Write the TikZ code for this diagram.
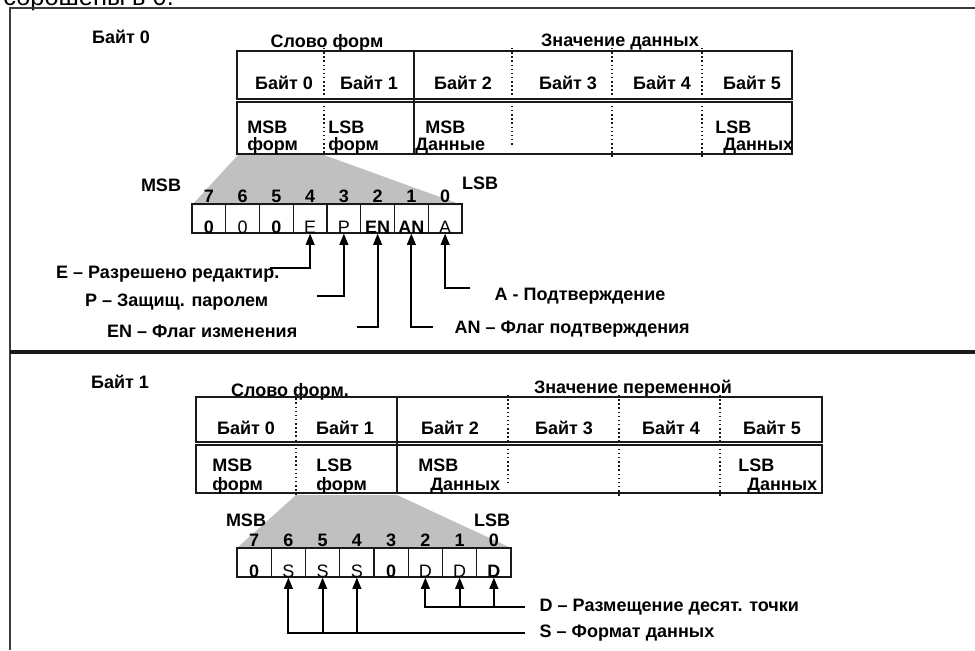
\documentclass[tikz,border=0pt]{standalone}
\usepackage{fontspec}
\setmainfont{Liberation Sans}
\usetikzlibrary{arrows.meta,calc}
\definecolor{wedge}{HTML}{C0C0C0}
\definecolor{ink}{HTML}{1A1A1A}

\begin{document}
\begin{tikzpicture}[
  x=.75pt, y=-.75pt,
  font=\fontsize{13.5}{15}\selectfont\bfseries,
  frame/.style={draw=ink!85, line width=1.1pt},
  cellrow/.style={draw=ink, line width=.9pt},
  split/.style={draw=ink, line width=1.1pt, dotted},
  bitcell/.style={draw=ink, line width=.8pt, minimum height=21.75pt,
    inner sep=0pt},
  bitval/.style={anchor=base, inner sep=0pt,
    font=\fontsize{13.5}{15}\selectfont\mdseries},
  bitnum/.style={anchor=base, inner sep=0pt},
  note/.style={anchor=base west, inner sep=0pt},
  lead/.style={draw=black, line width=1.5pt},
  pointer/.style={lead, -{Triangle[length=8.5pt,width=6.5pt]}}
]
\useasboundingbox (0,0) rectangle (975,650);
% text cut off by the top edge of the page
\node[anchor=base west, inner sep=0pt,
  font=\fontsize{19}{20}\selectfont\mdseries] (cut) at (3,5) {сброшены в 0.};
\draw[frame] (10,650) -- (10,8) -- (975,8);
\draw[ink, line width=2.6pt] (10,352) -- (975,352);

%% Byte 0 panel
\node (head0) at (121,37) {Байт 0};
\node (word0) at (327,43) {Слово форм};
\node (value0) at (620,42) {Значение данных};
\draw[cellrow] (237,51) rectangle (792,99);
\draw[cellrow] (237,102) rectangle (792,154);
\draw[cellrow] (414,51) -- (414,154);
\foreach \x/\yb in {324/157, 512/145, 612/157, 702/157}
  \draw[split] (\x,48) -- (\x,\yb);
\foreach \x/\n in {284/0, 369/1, 463/2, 568/3, 662/4, 752/5}
  \node (ta\n) at (\x,83) {Байт \n};
\foreach \xa/\xb/\nm/\up/\dn in {247/247/tm0/MSB/форм, 328/328/tm1/LSB/форм,
  425/415/tm2/MSB/Данные, 715/723/tm5/LSB/Данных} {
  \node[note] (\nm-up) at (\xa,133) {\up};
  \node[note] (\nm-dn) at (\xb,150) {\dn};
}

\fill[wedge] (238,155) -- (324,155) -- (462,205) -- (192,205) -- cycle;
\foreach \v [count=\i from 0] in {{\bfseries 0},0,{\bfseries 0},E,P,
  {\bfseries EN},{\bfseries AN},A} {
  \pgfmathtruncatemacro\k{7-\i}
  \node[bitcell, minimum width=25.31pt] (t\k)
    at ({192+33.75*(\i+.5)},218.5) {};
  \node[bitval] (tv\k) at (t\k.south) {\v};
  \node[bitnum] (tn\k) at ([yshift=1pt]t\k.north) {\k};
}
\node (msb0) at (161,185) {MSB};
\node (lsb0) at (480,183) {LSB};

\node[anchor=east] (labE) at (284,274) {E – Разрешено редактир.};
\node[anchor=east] (labP) at (273,302) {P – Защищ. паролем};
\node[anchor=east] (labEN) at (302,331) {EN – Флаг изменения};
\node[anchor=west] (labAN) at (450,329) {AN – Флаг подтверждения};
\node[anchor=west] (labA) at (490,296) {A - Подтверждение};
\coordinate (endE) at (270,268);
\coordinate (endP) at (317,296);
\coordinate (endEN) at (357,327);
\coordinate (endAN) at (433,327);
\coordinate (endA) at (470,288);
\foreach \e/\c in {endE/t4, endP/t3, endEN/t2, endAN/t1, endA/t0}
  \draw[pointer] (\e) -| (\c.south);

%% Byte 1 panel
\node (head1) at (120,382) {Байт 1};
\node (word1) at (290,392) {Слово форм.};
\node (value1) at (633,389) {Значение переменной};
\draw[cellrow] (196,397) rectangle (822,442);
\draw[cellrow] (196,445) rectangle (822,493);
\draw[cellrow] (397,397) -- (397,493);
\foreach \x/\ya/\yb in {296/390/496, 508/395/485, 619/395/496, 720/395/496}
  \draw[split] (\x,\ya) -- (\x,\yb);
\foreach \x/\n in {246/0, 345/1, 450/2, 564/3, 671/4, 772/5}
  \node (ba\n) at (\x,428) {Байт \n};
\foreach \xa/\xb/\nm/\up/\dn in {212/212/bm0/MSB/форм, 316/316/bm1/LSB/форм,
  418/430/bm2/MSB/Данных, 738/747/bm5/LSB/Данных} {
  \node[note] (\nm-up) at (\xa,471) {\up};
  \node[note] (\nm-dn) at (\xb,490) {\dn};
}

\fill[wedge] (296,495) -- (397,495) -- (511,548) -- (237,548) -- cycle;
\foreach \v [count=\i from 0] in {{\bfseries 0},S,S,S,{\bfseries 0},D,D,
  {\bfseries D}} {
  \pgfmathtruncatemacro\k{7-\i}
  \node[bitcell, minimum width=25.69pt] (b\k)
    at ({237+34.25*(\i+.5)},562.5) {};
  \node[bitval] (bv\k) at (b\k.south) {\v};
  \node[bitnum] (bn\k) at ([yshift=1pt]b\k.north) {\k};
}
\node (msb1) at (246,520) {MSB};
\node (lsb1) at (492,520) {LSB};

\node[anchor=west] (labD) at (535,607) {D – Размещение десят. точки};
\node[anchor=west] (labS) at (535,633) {S – Формат данных};
\coordinate (endD) at (525,607);
\coordinate (endS) at (525,633);
\draw[pointer] (endD) -| (b2.south);
\foreach \c in {b1,b0}
  \draw[pointer] (\c.south |- endD) -- (\c.south);
\draw[pointer] (endS) -| (b6.south);
\foreach \c in {b5,b4}
  \draw[pointer] (\c.south |- endS) -- (\c.south);
\end{tikzpicture}
\end{document}
